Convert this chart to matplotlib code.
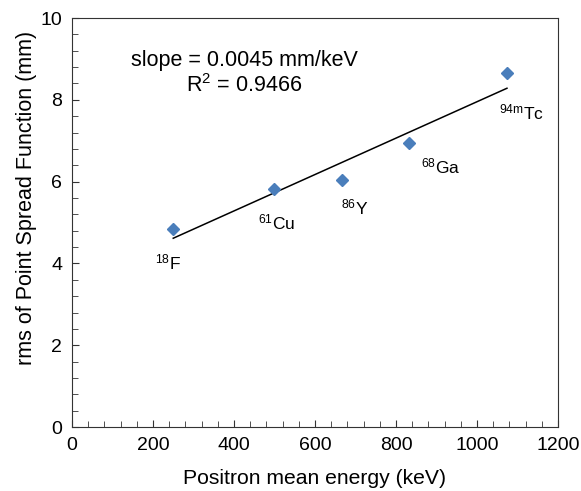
import numpy as np
import matplotlib.pyplot as plt
from matplotlib.ticker import MultipleLocator

plt.rcParams["font.family"] = ["Liberation Sans", "DejaVu Sans"]
plt.rcParams["mathtext.fontset"] = "custom"
plt.rcParams["mathtext.rm"] = "Liberation Sans"
plt.rcParams["mathtext.it"] = "Liberation Sans:italic"

isotopes = ["$^{\\mathrm{18}}$F", "$^{\\mathrm{61}}$Cu", "$^{\\mathrm{86}}$Y",
            "$^{\\mathrm{68}}$Ga", "$^{\\mathrm{94m}}$Tc"]
energy_kev = [250, 499, 667, 832, 1074]
psf_rms_mm = [4.84, 5.82, 6.04, 6.94, 8.66]

# label offsets (keV, mm) relative to each point
label_dx = [-13, 7, 32, 79, 35]
label_dy = [-0.81, -0.81, -0.66, -0.58, -0.96]

fig = plt.figure(figsize=(5.81, 4.91), dpi=100)
ax = fig.add_axes([0.1239, 0.1303, 0.8365, 0.8330])

coef = np.polyfit(energy_kev, psf_rms_mm, 1)
fit_x = np.array([min(energy_kev), max(energy_kev)])
ax.plot(fit_x, np.polyval(coef, fit_x), color="black", lw=1.1)

ax.plot(energy_kev, psf_rms_mm, "D", color="#4a7ebb", ms=6.5, mec="#4a7ebb")

for name, x, y, dx, dy in zip(isotopes, energy_kev, psf_rms_mm, label_dx, label_dy):
    ax.text(x + dx, y + dy, name, fontsize=12.5, ha="center", va="center")

ax.text(425, 8.97, "slope = 0.0045 mm/keV", fontsize=15.5, ha="center", va="center")
ax.text(425, 8.34, "R$^{\\mathrm{2}}$ = 0.9466", fontsize=15.5, ha="center", va="center")

ax.set_xlim(0, 1200)
ax.set_ylim(0, 10)
ax.xaxis.set_major_locator(MultipleLocator(200))
ax.xaxis.set_minor_locator(MultipleLocator(40))
ax.yaxis.set_major_locator(MultipleLocator(2))
ax.yaxis.set_minor_locator(MultipleLocator(0.4))
ax.tick_params(which="both", direction="in", top=False, right=False,
               labelsize=14, color="#333333", pad=7)
ax.tick_params(which="major", length=5)
ax.tick_params(which="minor", length=4)
for s in ax.spines.values():
    s.set_color("#333333")

ax.set_xlabel("Positron mean energy (keV)", fontsize=15.2, ha="left", va="center")
ax.xaxis.set_label_coords((183 - 72) / 486, -0.125)
ax.set_ylabel("rms of Point Spread Function (mm)", fontsize=15.5, va="center")
ax.yaxis.set_label_coords(-0.093, 0.56)

fig.savefig("out.png", dpi=100)
